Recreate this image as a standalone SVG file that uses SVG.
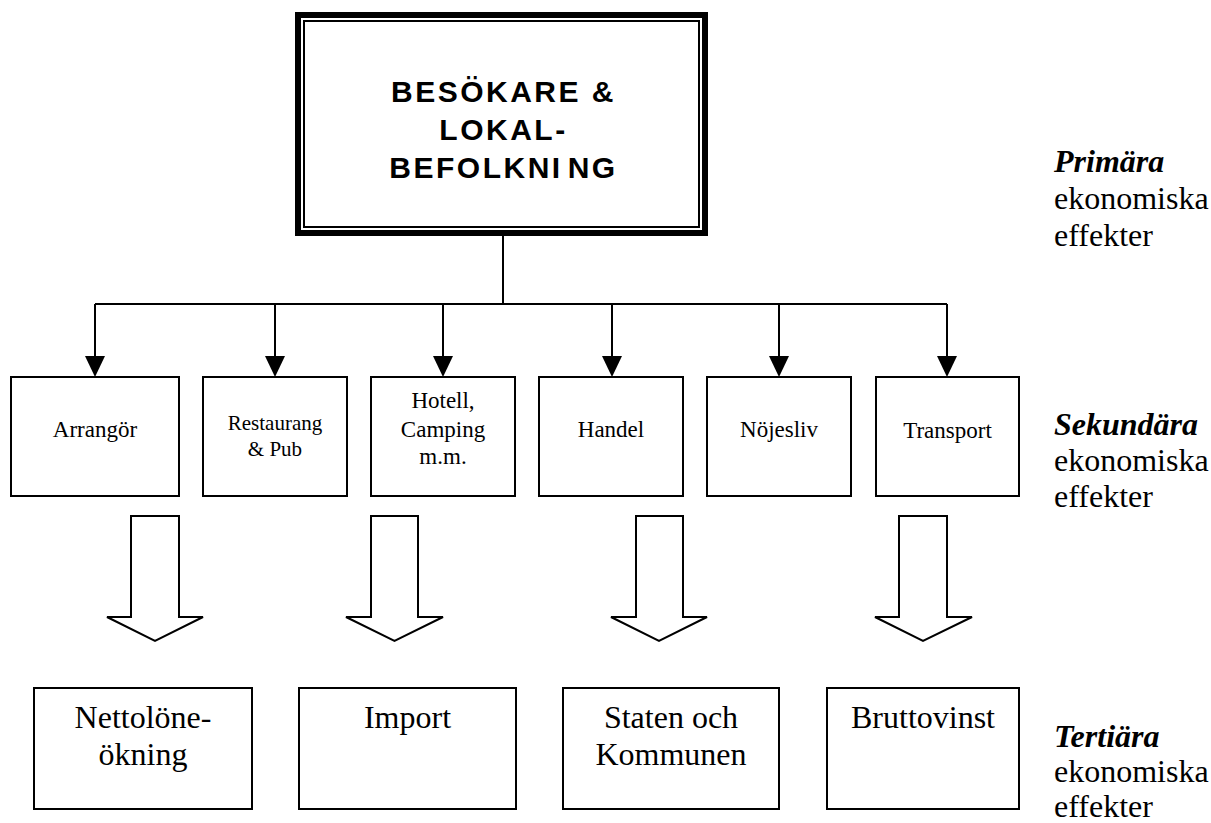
<svg xmlns="http://www.w3.org/2000/svg" width="1211" height="823" viewBox="0 0 1211 823">
<style>
.box{fill:#fff;stroke:#000;stroke-width:2}
.ln{fill:none;stroke:#000;stroke-width:2}
.head{fill:#000;stroke:none}
.block{fill:#fff;stroke:#000;stroke-width:2;stroke-linejoin:miter}
.main{font-family:"Liberation Sans",Arial,sans-serif;font-weight:bold;font-size:30px;letter-spacing:2.5px;text-anchor:middle;fill:#000}
.t{font-family:"Liberation Serif","Times New Roman",serif;fill:#000;text-anchor:middle}
.s{font-size:23px}
.s2{font-size:21px}
.b{font-size:32px}
.lab{font-family:"Liberation Serif","Times New Roman",serif;font-size:32px;fill:#000}
.bi{font-weight:bold;font-style:italic}
</style>
<rect width="1211" height="823" fill="#fff"/>
<g id="connectors">
<line class="ln" x1="503" y1="236" x2="503" y2="304"/>
<line class="ln" x1="95" y1="304" x2="947" y2="304"/>
<line class="ln" x1="95" y1="304" x2="95" y2="358"/>
<line class="ln" x1="275" y1="304" x2="275" y2="358"/>
<line class="ln" x1="443" y1="304" x2="443" y2="358"/>
<line class="ln" x1="612" y1="304" x2="612" y2="358"/>
<line class="ln" x1="779" y1="304" x2="779" y2="358"/>
<line class="ln" x1="947" y1="304" x2="947" y2="358"/>
<polygon class="head" points="85,356 105,356 95,377"/>
<polygon class="head" points="265,356 285,356 275,377"/>
<polygon class="head" points="433,356 453,356 443,377"/>
<polygon class="head" points="602,356 622,356 612,377"/>
<polygon class="head" points="769,356 789,356 779,377"/>
<polygon class="head" points="937,356 957,356 947,377"/>
<polygon class="block" points="131,516 179,516 179,617 203,617 155,641 107,617 131,617"/>
<polygon class="block" points="371,516 418,516 418,617 443,617 394.5,641 346,617 371,617"/>
<polygon class="block" points="636,516 683,516 683,617 707,617 659,641 611,617 636,617"/>
<polygon class="block" points="899,516 947,516 947,617 972,617 923,641 875,617 899,617"/>
</g>
<g id="main">
<rect x="298" y="15" width="407" height="218" fill="#fff" stroke="#000" stroke-width="6"/>
<rect x="304" y="21" width="395" height="206" fill="none" stroke="#000" stroke-width="2"/>
<text class="main" x="503.5" y="102">BESÖKARE &amp;</text>
<text class="main" x="503.5" y="140">LOKAL-</text>
<text class="main" x="503.5" y="178">BEFOLKNI<tspan dx="5">NG</tspan></text>
</g>
<g id="arrangor">
<rect class="box" x="11" y="377" width="168" height="119"/>
<text class="t s" x="95" y="437">Arrangör</text>
</g>
<g id="restaurang">
<rect class="box" x="203" y="377" width="144" height="119"/>
<text class="t s2" x="275" y="430">Restaurang</text>
<text class="t s2" x="275" y="456">&amp; Pub</text>
</g>
<g id="hotell">
<rect class="box" x="371" y="377" width="144" height="119"/>
<text class="t s" x="443" y="408">Hotell,</text>
<text class="t s" x="443" y="437">Camping</text>
<text class="t s" x="443" y="464">m.m.</text>
</g>
<g id="handel">
<rect class="box" x="539" y="377" width="144" height="119"/>
<text class="t s" x="611" y="437">Handel</text>
</g>
<g id="nojesliv">
<rect class="box" x="707" y="377" width="144" height="119"/>
<text class="t s" x="779" y="437">Nöjesliv</text>
</g>
<g id="transport">
<rect class="box" x="876" y="377" width="143" height="119"/>
<text class="t s" x="947.5" y="438">Transport</text>
</g>
<g id="netto">
<rect class="box" x="34" y="688" width="218" height="121"/>
<text class="t b" x="143" y="728">Nettolöne-</text>
<text class="t b" x="143" y="765">ökning</text>
</g>
<g id="import">
<rect class="box" x="299" y="688" width="217" height="121"/>
<text class="t b" x="407.5" y="728">Import</text>
</g>
<g id="staten">
<rect class="box" x="563" y="688" width="216" height="121"/>
<text class="t b" x="671" y="728">Staten och</text>
<text class="t b" x="671" y="765">Kommunen</text>
</g>
<g id="brutto">
<rect class="box" x="827" y="688" width="192" height="121"/>
<text class="t b" x="923" y="728">Bruttovinst</text>
</g>
<g id="labels">
<text class="lab" x="1054" y="172"><tspan class="bi">Primära</tspan><tspan x="1054" dy="37">ekonomiska</tspan><tspan x="1054" dy="37">effekter</tspan></text>
<text class="lab" x="1054" y="435"><tspan class="bi">Sekundära</tspan><tspan x="1054" dy="36">ekonomiska</tspan><tspan x="1054" dy="36">effekter</tspan></text>
<text class="lab" x="1054" y="747"><tspan class="bi">Tertiära</tspan><tspan x="1054" dy="35">ekonomiska</tspan><tspan x="1054" dy="35">effekter</tspan></text>
</g>
</svg>
